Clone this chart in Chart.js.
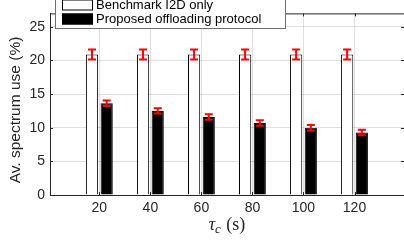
<!DOCTYPE html>
<html>
<head>
<meta charset="utf-8">
<script src="https://cdn.jsdelivr.net/npm/chart.js@4/dist/chart.umd.min.js"></script>
<style>
	html, body { margin: 0; padding: 0; background: #fff; }
	#myChart { display: block; }
</style>
</head>
<body>
<canvas id="myChart" width="404" height="241"></canvas>
<script>
// tau_c values (s)
var tauValues = [20, 40, 60, 80, 100, 120];
// average spectrum use (%)
var benchmarkUse = [20.9, 20.9, 20.9, 20.9, 20.9, 20.9];
var benchmarkErr = [0.75, 0.75, 0.75, 0.75, 0.75, 0.75];
var proposedUse = [13.65, 12.5, 11.6, 10.7, 10.0, 9.3];
var proposedErr = [0.4, 0.4, 0.4, 0.4, 0.4, 0.4];
var yTicks = [0, 5, 10, 15, 20, 25];
var seriesLabels = ['Benchmark I2D only', 'Proposed offloading protocol'];
var yTitle = 'Av. spectrum use (%)';

var axisColor = '#262626';
var gridColor = 'rgba(38,38,38,0.15)';
var sansFont = '"Liberation Sans", Arial, sans-serif';
var serifFont = '"Liberation Serif", "DejaVu Serif", serif';

function toPoints(values) {
	var pts = [];
	for (var i = 0; i < tauValues.length; i++) {
		pts.push({x: tauValues[i], y: values[i]});
	}
	return pts;
}

// red error bars on top of each bar
var errorBarPlugin = {
	id: 'errorBars',
	afterDatasetsDraw: function(chart) {
		var ctx = chart.ctx;
		var yScale = chart.scales.y;
		var errs = [benchmarkErr, proposedErr];
		ctx.save();
		ctx.strokeStyle = '#ff0000';
		ctx.lineWidth = 2;
		for (var d = 0; d < chart.data.datasets.length; d++) {
			var meta = chart.getDatasetMeta(d);
			var vals = d === 0 ? benchmarkUse : proposedUse;
			for (var i = 0; i < meta.data.length; i++) {
				var x = meta.data[i].x;
				var yTop = yScale.getPixelForValue(vals[i] + errs[d][i]);
				var yBot = yScale.getPixelForValue(vals[i] - errs[d][i]);
				ctx.beginPath();
				ctx.moveTo(x, yTop);
				ctx.lineTo(x, yBot);
				ctx.moveTo(x - 4, yTop);
				ctx.lineTo(x + 4, yTop);
				ctx.moveTo(x - 4, yBot);
				ctx.lineTo(x + 4, yBot);
				ctx.stroke();
			}
		}
		ctx.restore();
	}
};

// box around the axes, inward ticks, legend and axis titles
var decorPlugin = {
	id: 'decor',
	afterDraw: function(chart) {
		var ctx = chart.ctx;
		var area = chart.chartArea;
		var xScale = chart.scales.x;
		var yScale = chart.scales.y;
		var i, px;
		ctx.save();

		// box + ticks
		ctx.strokeStyle = axisColor;
		ctx.lineWidth = 1;
		ctx.beginPath();
		ctx.moveTo(area.left, area.top + 0.5);
		ctx.lineTo(area.right, area.top + 0.5);
		for (i = 0; i < tauValues.length; i++) {
			px = Math.round(xScale.getPixelForValue(tauValues[i])) + 0.5;
			ctx.moveTo(px, area.top);
			ctx.lineTo(px, area.top + 3);
			ctx.moveTo(px, area.bottom);
			ctx.lineTo(px, area.bottom - 3);
		}
		for (i = 0; i < yTicks.length; i++) {
			px = Math.round(yScale.getPixelForValue(yTicks[i])) + 0.5;
			ctx.moveTo(area.right, px);
			ctx.lineTo(area.right - 3, px);
			ctx.moveTo(area.left, px);
			ctx.lineTo(area.left + 3, px);
		}
		ctx.stroke();

		// legend
		var lx = area.left + 5;
		ctx.fillStyle = '#fff';
		ctx.fillRect(lx + 0.5, -3, 230, 31);
		ctx.strokeStyle = '#6e6e6e';
		ctx.strokeRect(lx + 0.5, -3.5, 230, 32);
		ctx.font = '13px ' + sansFont;
		ctx.textBaseline = 'middle';
		ctx.textAlign = 'left';
		var rowY = [5, 19];
		for (i = 0; i < chart.data.datasets.length; i++) {
			var ds = chart.data.datasets[i];
			ctx.fillStyle = ds.backgroundColor;
			ctx.fillRect(lx + 7, rowY[i] - 5.5, 31, 11);
			ctx.strokeStyle = '#000';
			ctx.strokeRect(lx + 7.5, rowY[i] - 5, 30, 10);
			ctx.fillStyle = '#000';
			ctx.fillText(ds.label, lx + 41, rowY[i] + 0.5);
		}

		// y title
		ctx.save();
		ctx.translate(16, 110);
		ctx.rotate(-Math.PI / 2);
		ctx.font = '15.5px ' + sansFont;
		ctx.textAlign = 'center';
		ctx.textBaseline = 'middle';
		ctx.fillStyle = axisColor;
		ctx.fillText(yTitle, 0, 0);
		ctx.restore();

		// x title: tau_c (s)
		var cx = (area.left + area.right) / 2;
		var base = 230;
		var f1 = 'italic 18px ' + serifFont;
		var f2 = 'italic 13px ' + serifFont;
		var f3 = '18px ' + serifFont;
		ctx.font = f1; var w1 = ctx.measureText('\u03c4').width;
		ctx.font = f2; var w2 = ctx.measureText('c').width;
		ctx.font = f3; var w3 = ctx.measureText(' (s)').width;
		var sx = cx - (w1 + w2 + 1 + w3) / 2;
		ctx.fillStyle = axisColor;
		ctx.textAlign = 'left';
		ctx.textBaseline = 'alphabetic';
		ctx.font = f1; ctx.fillText('\u03c4', sx, base);
		ctx.font = f2; ctx.fillText('c', sx + w1, base + 3);
		ctx.font = f3; ctx.fillText(' (s)', sx + w1 + w2 + 1, base);

		ctx.restore();
	}
};

var ctx = document.getElementById('myChart').getContext('2d');
var chart = new Chart(ctx, {
	type: 'bar',
	data: {
		datasets: [
			{
				label: seriesLabels[0],
				data: toPoints(benchmarkUse),
				backgroundColor: '#ffffff',
				borderColor: '#000000',
				borderWidth: 1
			},
			{
				label: seriesLabels[1],
				data: toPoints(proposedUse),
				backgroundColor: '#000000',
				borderColor: '#000000',
				borderWidth: 1
			}
		]
	},
	options: {
		responsive: false,
		animation: false,
		devicePixelRatio: 1,
		categoryPercentage: 0.575,
		barPercentage: 0.83,
		layout: { padding: { left: 0, right: 0, top: 5, bottom: 0 } },
		plugins: {
			legend: { display: false },
			tooltip: { enabled: false }
		},
		scales: {
			x: {
				type: 'linear',
				min: 0.66,
				max: 139.4,
				offset: false,
				afterBuildTicks: function(scale) {
					scale.ticks = tauValues.map(function(v) { return {value: v}; });
				},
				afterFit: function(scale) { scale.height = 46; },
				grid: { offset: false, color: gridColor, drawTicks: false },
				border: { color: axisColor, width: 1 },
				ticks: {
					padding: 5,
					color: axisColor,
					font: { family: sansFont, size: 14 }
				}
			},
			y: {
				min: 0,
				max: 27,
				afterBuildTicks: function(scale) {
					scale.ticks = yTicks.map(function(v) { return {value: v}; });
				},
				afterFit: function(scale) { scale.width = 50; },
				grid: { color: gridColor, drawTicks: false },
				border: { color: axisColor, width: 1 },
				ticks: {
					padding: 5,
					color: axisColor,
					font: { family: sansFont, size: 14 }
				}
			}
		}
	},
	plugins: [errorBarPlugin, decorPlugin]
});
</script>
</body>
</html>
